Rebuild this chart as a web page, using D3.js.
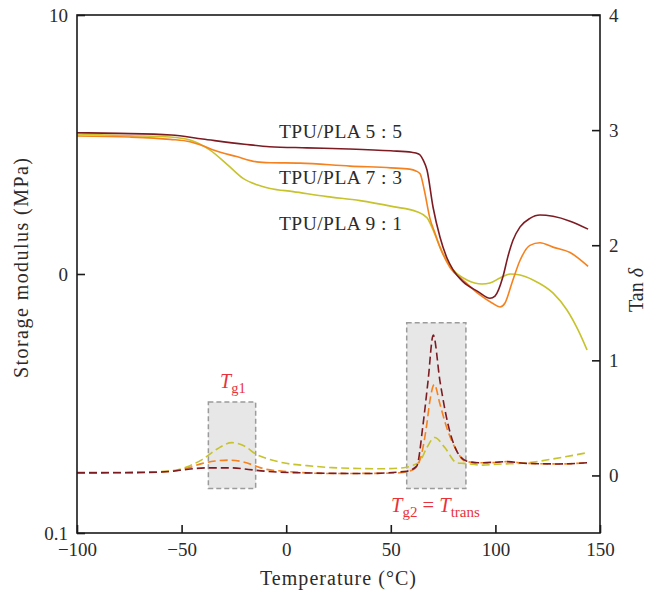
<!DOCTYPE html>
<html>
<head>
<meta charset="utf-8">
<script src="https://cdn.jsdelivr.net/npm/d3@7/dist/d3.min.js"></script>
<style>
  html, body { margin: 0; padding: 0; background: #fff; }
  svg { display: block; }
  text { font-family: "Liberation Serif", "DejaVu Serif", serif; fill: #2b2b2b; }
</style>
</head>
<body>
<svg id="chart" width="657" height="595"></svg>
<script>
// Storage modulus E' (MPa) versus temperature (°C)
const temp55 = [-100,-80,-55,-40,-20,-8,10,30,50,60,62,64,65.5,67.3,70.2,73.5,76.9,79.7,84.5,91.7,97.4,99.8,103.6,106,108.4,111.8,116.5,121.3,127.5,135.7,144.3];
const mod55  = [3.51,3.49,3.44,3.32,3.17,3.10,3.07,3.04,2.99,2.95,2.93,2.88,2.75,2.52,1.81,1.39,1.15,1.04,0.934,0.855,0.806,0.822,0.976,1.17,1.35,1.52,1.64,1.69,1.67,1.60,1.49];

const temp73 = [-100,-75,-55.5,-46,-39.6,-34.8,-23.7,-14.1,-7.7,6.6,30.5,50,59,62,64,66,68.7,71.1,73.5,78.3,84.5,92.6,98.4,102.2,104.6,107.9,111.8,116.5,121.3,127.5,135.7,144.3];
const mod73  = [3.41,3.38,3.31,3.24,3.12,3.01,2.84,2.71,2.69,2.68,2.61,2.57,2.54,2.50,2.44,2.11,1.64,1.44,1.27,1.06,0.948,0.83,0.773,0.746,0.773,0.923,1.13,1.29,1.32,1.27,1.21,1.07];

const temp91 = [-100,-75,-55.5,-46,-36.4,-26.9,-20.6,-14,-7.7,3.3,19.5,35.3,51.1,62.5,67.3,70.2,73.5,79.7,86.4,93.6,97.4,102.2,107,111.8,118,127.5,134.2,139.5,143.8];
const mod91  = [3.47,3.42,3.38,3.29,3.01,2.59,2.34,2.21,2.14,2.08,1.99,1.92,1.82,1.74,1.65,1.48,1.27,1.04,0.948,0.915,0.923,0.965,1.0,0.991,0.948,0.845,0.726,0.608,0.509];

// Loss factor tan δ versus temperature (°C)
const tanT55 = [-100,-70,-55,-47.6,-38,-26,-18,-12,6.6,38.5,57.6,62.4,65.4,67.8,70.3,73.5,77.4,81.6,86.4,92,100,105,115,130,144];
const tan55  = [0.022,0.025,0.035,0.052,0.066,0.066,0.052,0.04,0.023,0.017,0.037,0.081,0.44,0.82,1.22,0.82,0.44,0.21,0.124,0.11,0.115,0.12,0.105,0.1,0.11];

const tanT73 = [-100,-70,-55,-46,-40,-34,-27,-20,-15,-10,-1.4,10,22.5,40,54.4,60.8,64,67.1,68.7,70.8,73.5,76.3,81.6,85.5,92,100,105,115,130,144];
const tan73  = [0.025,0.027,0.035,0.07,0.105,0.125,0.133,0.115,0.085,0.055,0.037,0.022,0.017,0.018,0.023,0.052,0.139,0.43,0.65,0.79,0.62,0.44,0.21,0.124,0.11,0.112,0.12,0.105,0.1,0.11];

const tanT91 = [-100,-80,-65,-55,-46,-40,-33,-26,-20,-14,-8,-1.5,10,22,35,46,55,60.6,64,67.2,71,75.9,81.5,84.7,94,99,115,130.9,143.6];
const tan91  = [0.025,0.025,0.03,0.04,0.085,0.14,0.23,0.285,0.255,0.18,0.14,0.11,0.085,0.068,0.06,0.058,0.065,0.087,0.124,0.24,0.33,0.24,0.11,0.105,0.09,0.096,0.11,0.154,0.197];

// Series names and colours
const seriesNames = ["TPU/PLA 5 : 5", "TPU/PLA 7 : 3", "TPU/PLA 9 : 1"];
const seriesColors = ["#7d1b22", "#f5821f", "#c6c32c"];

// Axis ticks
const xTicks = [-100, -50, 0, 50, 100, 150];
const yLeftTicks = [0.1, 1, 10];
const yLeftLabels = ["0.1", "0", "10"];
const yRightTicks = [0, 1, 2, 3, 4];

// Shaded transition windows: [T start, T end, tan δ low, tan δ high]
const tg1Box = [-37.2, -14.6, -0.113, 0.637];
const tg2Box = [57.6, 85.9, -0.113, 1.327];

const svg = d3.select("#chart");
const L = 77, R = 600, T = 15, B = 533;

const x = d3.scaleLinear().domain([-100, 150]).range([L, R]);
const yE = d3.scaleLog().domain([0.1, 10]).range([B, T]);
const yTan = d3.scaleLinear().domain([-0.5, 4]).range([B, T]);

const fs = 19;

// Shaded boxes
[tg1Box, tg2Box].forEach(b => {
  svg.append("rect")
    .attr("x", x(b[0])).attr("y", yTan(b[3]))
    .attr("width", x(b[1]) - x(b[0]))
    .attr("height", yTan(b[2]) - yTan(b[3]))
    .attr("fill", "#e7e7e7")
    .attr("stroke", "#9b9b9b")
    .attr("stroke-width", 1.5)
    .attr("stroke-dasharray", "5,3");
});

const zip = (a, b) => a.map((v, i) => [v, b[i]]);

const lineE = d3.line().x(d => x(d[0])).y(d => yE(d[1])).curve(d3.curveMonotoneX);
const lineTan = d3.line().x(d => x(d[0])).y(d => yTan(d[1])).curve(d3.curveMonotoneX);

const tanSeries = [zip(tanT91, tan91), zip(tanT73, tan73), zip(tanT55, tan55)];
const drawColors = [seriesColors[2], seriesColors[1], seriesColors[0]];
tanSeries.forEach((s, i) => {
  svg.append("path").datum(s)
    .attr("d", lineTan)
    .attr("fill", "none")
    .attr("stroke", drawColors[i])
    .attr("stroke-width", 1.6)
    .attr("stroke-dasharray", "8,4");
});

const modSeries = [zip(temp91, mod91), zip(temp73, mod73), zip(temp55, mod55)];
modSeries.forEach((s, i) => {
  svg.append("path").datum(s)
    .attr("d", lineE)
    .attr("fill", "none")
    .attr("stroke", drawColors[i])
    .attr("stroke-width", 1.6);
});

// Axes
const styleAxis = g => {
  g.select(".domain").remove();
  g.selectAll(".tick line").attr("stroke", "#1a1a1a").attr("stroke-width", 1.6);
  g.selectAll(".tick text").attr("font-size", fs).attr("fill", "#2b2b2b")
    .style("font-family", "'Liberation Serif', serif");
};

svg.append("g").attr("transform", `translate(0,${B})`)
  .call(d3.axisBottom(x).tickValues(xTicks).tickSizeInner(-8).tickSizeOuter(0).tickPadding(10)
    .tickFormat(d => d < 0 ? "\u2212" + Math.abs(d) : d))
  .call(styleAxis);

svg.append("g").attr("transform", `translate(${L},0)`)
  .call(d3.axisLeft(yE).tickValues(yLeftTicks).tickSizeInner(-8).tickSizeOuter(0).tickPadding(9)
    .tickFormat((d, i) => yLeftLabels[i]))
  .call(styleAxis);

svg.append("g").attr("transform", `translate(${R},0)`)
  .call(d3.axisRight(yTan).tickValues(yRightTicks).tickSizeInner(-8).tickSizeOuter(0).tickPadding(9)
    .tickFormat(d3.format("d")))
  .call(styleAxis);

// Frame
svg.append("rect")
  .attr("x", L).attr("y", T).attr("width", R - L).attr("height", B - T)
  .attr("fill", "none").attr("stroke", "#1a1a1a").attr("stroke-width", 1.6);

// Axis titles
svg.append("text")
  .attr("x", 338).attr("y", 585)
  .attr("text-anchor", "middle").attr("font-size", 20)
  .attr("textLength", 156).attr("lengthAdjust", "spacing")
  .text("Temperature (°C)");

svg.append("text")
  .attr("transform", `translate(28,268) rotate(-90)`)
  .attr("text-anchor", "middle").attr("font-size", 20)
  .attr("textLength", 220).attr("lengthAdjust", "spacing")
  .text("Storage modulus (MPa)");

const tanTitle = svg.append("text")
  .attr("transform", `translate(643,290) rotate(-90)`)
  .attr("text-anchor", "middle").attr("font-size", 20);
tanTitle.append("tspan").text("Tan ");
tanTitle.append("tspan").attr("font-style", "italic").text("δ");

// Series labels
const labelY = [138, 184, 230];
seriesNames.forEach((n, i) => {
  svg.append("text")
    .attr("x", 279).attr("y", labelY[i])
    .attr("font-size", 19.5).attr("fill", "#2b2b2b")
    .attr("textLength", 123).attr("lengthAdjust", "spacing")
    .text(n);
});

// Glass-transition annotations
const red = "#e8333d";
const tg1 = svg.append("text").attr("x", 220).attr("y", 388).attr("font-size", 20);
tg1.append("tspan").attr("font-style", "italic").attr("fill", red).text("T");
tg1.append("tspan").attr("dy", 5).attr("font-size", 14.5).attr("fill", red).text("g1");

const tg2 = svg.append("text").attr("x", 391).attr("y", 512).attr("font-size", 20.5);
tg2.append("tspan").attr("font-style", "italic").attr("fill", red).text("T");
tg2.append("tspan").attr("dy", 5).attr("font-size", 15).attr("fill", red).text("g2");
tg2.append("tspan").attr("dy", -5).attr("fill", red).text(" = ");
tg2.append("tspan").attr("font-style", "italic").attr("fill", red).text("T");
tg2.append("tspan").attr("dy", 5).attr("font-size", 15).attr("fill", red).text("trans");
</script>
</body>
</html>
